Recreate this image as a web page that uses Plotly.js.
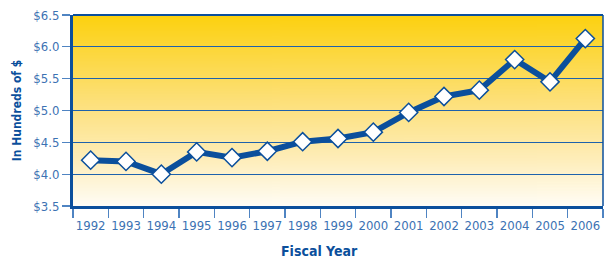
<!DOCTYPE html>
<html>
<head>
<meta charset="utf-8">
<script src="https://cdn.plot.ly/plotly-3.0.1.min.js"></script>
<style>html,body{margin:0;padding:0;background:#fff;}#chart{width:604px;height:259px;}</style>
</head>
<body>
<div id="chart"></div>
<script>
const years = ['1992','1993','1994','1995','1996','1997','1998','1999','2000','2001','2002','2003','2004','2005','2006'];
const values = [4.22, 4.20, 4.00, 4.35, 4.26, 4.36, 4.51, 4.56, 4.66, 4.97, 5.22, 5.32, 5.80, 5.45, 6.13];
const yTickVals = [3.5, 4.0, 4.5, 5.0, 5.5, 6.0, 6.5];
const yTickText = ['$3.5', '$4.0', '$4.5', '$5.0', '$5.5', '$6.0', '$6.5'];

// vertical gradient image for plot background
const cv = document.createElement('canvas');
cv.width = 4; cv.height = 256;
const ctx = cv.getContext('2d');
const g = ctx.createLinearGradient(0, 0, 0, 256);
g.addColorStop(0, '#FCD10F');
g.addColorStop(0.45, '#FDE079');
g.addColorStop(0.75, '#FEEDB8');
g.addColorStop(1, '#FFFDF6');
ctx.fillStyle = g;
ctx.fillRect(0, 0, 4, 256);
const bg = cv.toDataURL();

const font = '"DejaVu Sans Condensed", "Liberation Sans", sans-serif';
const dark = '#0B4F9C';
const tickBlue = '#3C72B3';

const trace = {
  x: years, y: values, type: 'scatter', mode: 'lines+markers',
  line: {color: dark, width: 6},
  marker: {symbol: 'diamond', size: 14, color: '#ffffff', line: {color: dark, width: 1.5}},
  cliponaxis: false, hoverinfo: 'skip'
};

const layout = {
  width: 604, height: 259,
  margin: {l: 73, r: 1, t: 15, b: 53},
  paper_bgcolor: '#ffffff', plot_bgcolor: 'rgba(0,0,0,0)',
  showlegend: false,
  font: {family: font, color: tickBlue, size: 13, style: 'normal'},
  images: [{source: bg, xref: 'paper', yref: 'paper', x: 0, y: 1, sizex: 1, sizey: 1,
            sizing: 'stretch', xanchor: 'left', yanchor: 'top', layer: 'below'}],
  xaxis: {
    type: 'category', range: [-0.5, years.length - 0.5], tickangle: 0,
    tickson: 'boundaries', ticks: 'outside', ticklen: 9, tickwidth: 1.2, ticklabelstandoff: 5,
    tickcolor: '#4F84C2', showgrid: false, showline: true, linecolor: dark, linewidth: 3,
    tickfont: {family: font, size: 13, color: tickBlue, style: 'normal'}, zeroline: false, fixedrange: true
  },
  yaxis: {
    range: [3.5, 6.5], tickvals: yTickVals, ticktext: yTickText, ticks: 'outside', ticklen: 8,
    tickwidth: 1.2, tickcolor: '#4F84C2', showgrid: true, gridcolor: '#1E62AC', gridwidth: 1.2,
    showline: true, linecolor: dark, linewidth: 3, zeroline: false,
    tickfont: {family: font, size: 13, color: tickBlue, style: 'normal'},
    title: {text: '<b>In Hundreds of $</b>', font: {family: font, size: 12, color: dark, style: 'normal'}, standoff: 10},
    fixedrange: true
  },
  shapes: [
    {type: 'line', xref: 'paper', yref: 'paper', x0: 0, x1: 1, y0: 1, y1: 1, line: {color: dark, width: 2}},
    {type: 'line', xref: 'paper', yref: 'paper', x0: 1, x1: 1, y0: 0, y1: 1, line: {color: dark, width: 1.5}}
  ],
  annotations: [
    {text: '<b>Fiscal Year</b>', xref: 'paper', yref: 'paper', x: 0.465, y: -0.235, yanchor: 'middle',
     showarrow: false, font: {family: font, size: 14, color: dark, style: 'normal'}}
  ]
};

Plotly.newPlot('chart', [trace], layout, {displayModeBar: false, staticPlot: true});
</script>
</body>
</html>
